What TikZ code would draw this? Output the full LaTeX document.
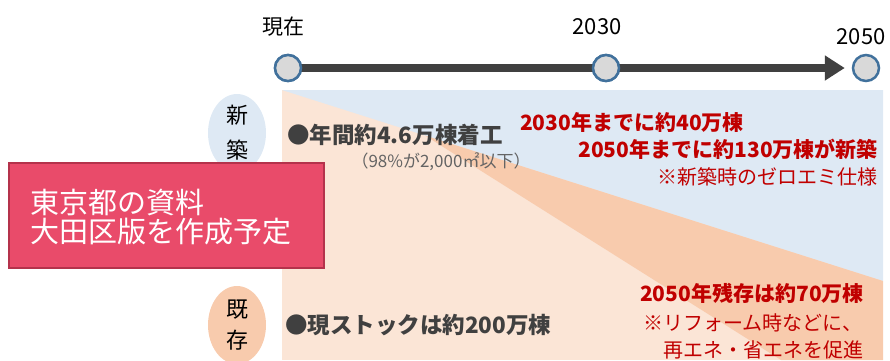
\documentclass[tikz,border=0pt]{standalone}
\usepackage{fontspec}
\setmainfont{Noto Sans CJK JP}
\usetikzlibrary{arrows.meta,shapes.geometric}
\definecolor{lblue}{RGB}{222,233,244}
\definecolor{lpeach}{RGB}{251,229,214}
\definecolor{dorange}{RGB}{248,203,173}
\definecolor{boxred}{RGB}{233,75,106}
\definecolor{boxedge}{RGB}{180,50,75}
\definecolor{txtred}{RGB}{192,0,0}
\definecolor{txtdark}{RGB}{64,64,64}
\definecolor{txtgray}{RGB}{100,100,100}
\definecolor{tickfill}{RGB}{217,217,217}
\definecolor{tickedge}{RGB}{65,113,156}
\tikzset{
  tickmark/.style={ellipse,draw=tickedge,fill=tickfill,line width=2.5pt,minimum width=26pt,minimum height=26pt,inner sep=0pt},
  yearlbl/.style={inner sep=0pt,text=black,font=\fontsize{21}{23}\selectfont},
  sidelbl/.style={ellipse,inner sep=0pt,minimum width=58pt,minimum height=78pt,align=center,text=black},
  mainpt/.style={inner sep=0pt,text=txtdark,font=\fontsize{22.5}{24}\selectfont\bfseries},
  redb/.style={inner sep=0pt,text=txtred,font=\fontsize{21}{23}\selectfont\bfseries},
  redn/.style={inner sep=0pt,text=txtred,font=\fontsize{20}{22}\selectfont},
  tlarrow/.style={line width=8pt,draw=txtdark,-{Triangle[length=20pt,width=24pt]}}
}
\begin{document}
\begin{tikzpicture}[x=1pt,y=-1pt]
\useasboundingbox (0,0) rectangle (890,360);
% background areas
\fill[lpeach] (282,90) rectangle (883,360);
\fill[lblue] (282,90) -- (883,90) -- (883,281) -- cycle;
\fill[dorange] (425,135.5) -- (883,281) -- (883,360) -- (781,360) -- cycle;
% timeline
\node[tickmark] (t0) at (288,68) {};
\node[tickmark] (t1) at (606,68) {};
\node[tickmark] (t2) at (866,68) {};
\draw[tlarrow] (t0.center) -- ([xshift=-7pt]t2.west);
\node[tickmark] at (t0) {};
\node[tickmark] at (t1) {};
\node[yearlbl] (y0) at (283.5,27) {現在};
\node[yearlbl,font=\fontsize{22}{24}\selectfont] (y1) at (597,27) {2030};
\node[yearlbl,font=\fontsize{22}{24}\selectfont] (y2) at (861,37) {2050};
% side labels
\node[sidelbl,fill=lblue,font=\fontsize{22}{35}\selectfont] (shin) at (237,133) {新\\築};
\node[sidelbl,fill=dorange,font=\fontsize{22}{31}\selectfont] (kizon) at (237,325) {既\\存};
% texts
\node[mainpt,anchor=west] (p1) at (287,135) {●年間約4.6万棟着工};
\node[inner sep=0pt,text=txtgray,font=\fontsize{17}{19}\selectfont] (p1s) at (441,162) {（98\%が2,000㎡以下）};
\node[mainpt,anchor=west] (p2) at (285,325) {●現ストックは約200万棟};
\node[redb,anchor=west] (r1) at (520,122) {2030年までに約40万棟};
\node[redb,anchor=east] (r2) at (878,149) {2050年までに約130万棟が新築};
\node[redn,anchor=east] (r3) at (878,177) {※新築時のゼロエミ仕様};
\node[redb,anchor=east] (r4) at (864,293) {2050年残存は約70万棟};
\node[redn,anchor=west] (r5) at (643,323) {※リフォーム時などに、};
\node[redn,anchor=east] (r6) at (864,350) {再エネ・省エネを促進};
% red box
\node[draw=boxedge,fill=boxred,line width=1.5pt,minimum width=315pt,minimum height=105pt,anchor=north west,inner sep=0pt] (box) at (8,162) {};
\node[anchor=west,inner sep=0pt,align=left,text=white,font=\fontsize{29}{29}\selectfont] (boxtxt) at (30,217.5) {東京都の資料\\大田区版を作成予定};
\end{tikzpicture}
\end{document}
